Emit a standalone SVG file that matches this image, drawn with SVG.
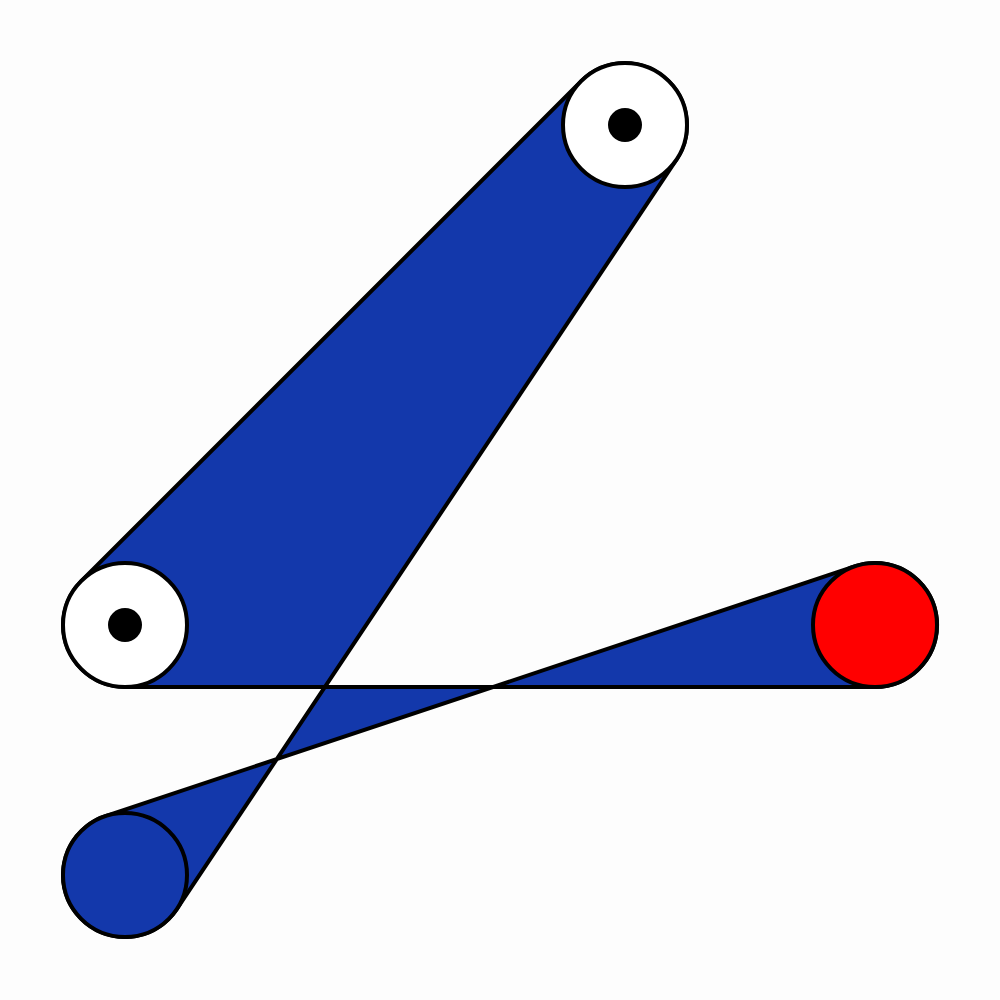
<svg xmlns="http://www.w3.org/2000/svg" width="1000" height="1000" viewBox="0 0 1000 1000">
<style>
.belt{fill:#1338ab;stroke:#000;stroke-width:4;stroke-linejoin:round}
.pulley{stroke:#000;stroke-width:4}
.dot{fill:#000}
</style>
<rect width="1000" height="1000" fill="#fdfdfd"/>
<g id="connectors">
<path class="belt" fill-rule="nonzero" d="M81.2,581.2 L581.2,81.2 A62,62 0 0 1 676.6,159.4 L176.6,909.4 A62,62 0 1 1 105.4,816.2 L855.4,566.2 A62,62 0 1 1 875,687 L125,687 A62,62 0 0 1 81.2,581.2 Z"/>
</g>
<g id="pulley-a"><circle class="pulley" cx="125" cy="625" r="62" fill="#fff"/><circle class="dot" cx="125" cy="625" r="17"/></g>
<g id="pulley-b"><circle class="pulley" cx="625" cy="125" r="62" fill="#fff"/><circle class="dot" cx="625" cy="125" r="17"/></g>
<g id="pulley-c"><circle class="pulley" cx="875" cy="625" r="62" fill="#ff0000"/></g>
<g id="pulley-d"><circle class="pulley" cx="125" cy="875" r="62" fill="#1338ab"/></g>
</svg>
